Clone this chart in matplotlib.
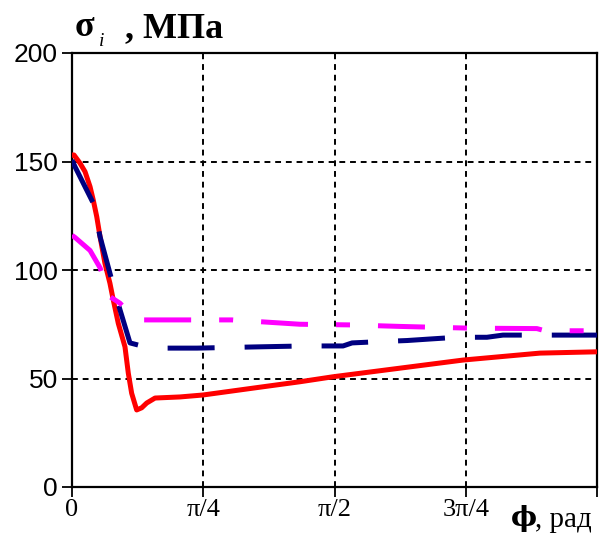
import numpy as np
import matplotlib
matplotlib.use("Agg")
import matplotlib.pyplot as plt

# ---- data (phi in radians, sigma_i in MPa) ----
red_x = [0.0, 0.012, 0.048, 0.078, 0.108, 0.127, 0.148, 0.168, 0.197, 0.227, 0.247,
         0.277, 0.317, 0.337, 0.357, 0.387, 0.417, 0.447, 0.497,
         0.646, 0.784, 1.125, 1.364, 1.562, 2.340, 2.800, 3.1416]
red_y = [153, 153, 149.2, 145.3, 138.4, 132.3, 124.6, 115.3, 103.1, 93.9, 86.2,
         75.4, 64.6, 52.4, 43.2, 35.5, 36.5, 38.7, 41,
         41.5, 42.4, 46, 48.5, 50.8, 58.5, 61.7, 62.3]

navy_x = [0.0, 0.018, 0.126, 0.168, 0.227, 0.275, 0.347, 0.467, 0.748, 1.125, 1.394,
          1.622, 1.676, 1.843, 2.005, 2.142, 2.304, 2.483, 2.579, 3.1416]
navy_y = [150.7, 147.6, 131, 115.3, 98.5, 84.8, 66.4, 64, 64, 64.6, 65,
          65, 66.4, 67, 67.5, 68.2, 69, 69, 70, 70]

mag_x = [0.0, 0.018, 0.108, 0.168, 0.227, 0.287, 0.377, 0.425, 0.957, 1.364, 1.664,
         1.963, 2.382, 2.782, 2.830, 3.1416]
mag_y = [116, 115, 109, 101, 87.7, 84.7, 77.5, 77, 77, 75, 74.7,
         74, 73.2, 73, 72, 72]

xticks = [0, np.pi / 4, np.pi / 2, 3 * np.pi / 4, np.pi]
xticklabels = ["0", "π/4", "π/2", "3π/4", ""]
yticks = [0, 50, 100, 150, 200]

W, H = 611, 535
fig = plt.figure(figsize=(W / 100, H / 100), dpi=100)
ax = fig.add_axes([72 / W, 1 - 487 / H, (597 - 72) / W, (487 - 53) / H])

lw = 3.6
ax.plot(red_x, red_y, color="#ff0000", lw=lw, zorder=3)
ax.plot(navy_x, navy_y, color="#000080", lw=lw, linestyle=(0, (9.4, 6.0)),
        dash_capstyle="butt", zorder=4)
ax.plot(mag_x, mag_y, color="#ff00ff", lw=lw, linestyle=(0, (9.4, 5.6, 2.8, 5.6)),
        dash_capstyle="butt", zorder=5)

ax.set_xlim(0, np.pi)
ax.set_ylim(0, 200)
ax.set_xticks(xticks)
ax.set_xticklabels(xticklabels, family="Liberation Serif", fontsize=19)
ax.set_yticks(yticks)
ax.set_yticklabels([str(v) for v in yticks], family="Liberation Sans", fontsize=19)
ax.tick_params(direction="out", length=7, width=1.3, color="black", pad=2)
ax.tick_params(axis="y", pad=3)

ax.grid(True, color="black", linestyle=(0, (3, 2.5)), linewidth=1.4)
for s in ax.spines.values():
    s.set_color("black")
    s.set_linewidth(1.6)

# title: sigma_i , MPa
fig.text(75 / W, 1 - 36 / H, "σ", family="Liberation Serif", weight="bold",
         fontsize=26, ha="left", va="baseline")
fig.text(99 / W, 1 - 46 / H, "i", family="Liberation Serif", style="italic",
         fontsize=14, ha="left", va="baseline")
fig.text(125 / W, 1 - 37 / H, ", МПа", family="Liberation Serif", weight="bold",
         fontsize=26, ha="left", va="baseline")

# x label: phi, rad
fig.text(511 / W, 1 - 526 / H, "ϕ", family="DejaVu Serif", weight="bold",
         fontsize=20, ha="left", va="baseline")
fig.text(535 / W, 1 - 527 / H, ", рад", family="Liberation Serif", fontsize=21,
         ha="left", va="baseline")

fig.savefig("out.png", dpi=100)
